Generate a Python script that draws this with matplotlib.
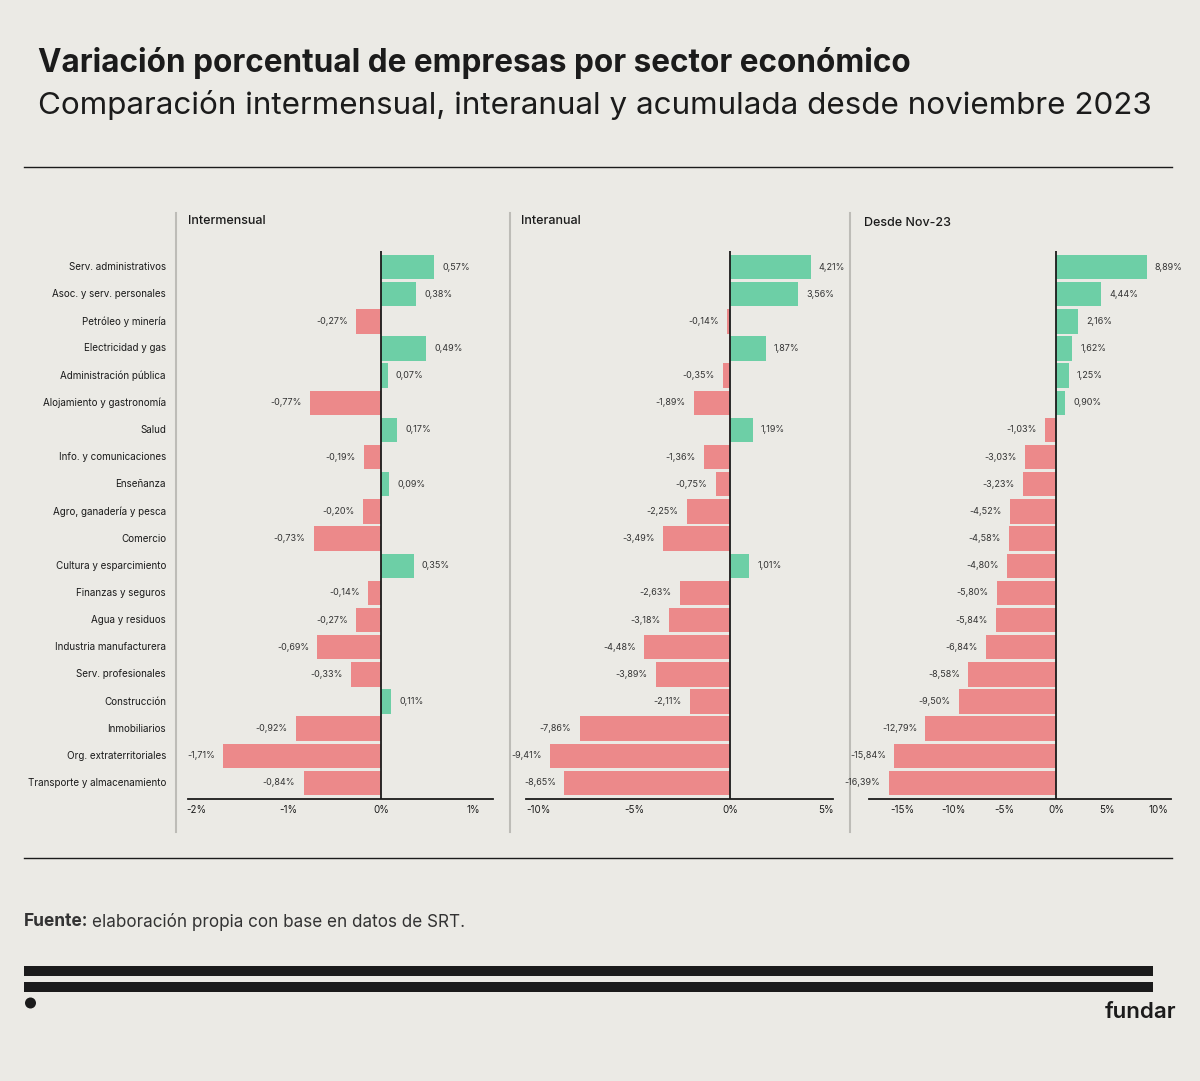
import matplotlib.pyplot as plt
from matplotlib.patches import Rectangle, Circle

plt.rcParams['font.family'] = ['Inter', 'DejaVu Sans']

# data
sectores = ["Serv. administrativos", "Asoc. y serv. personales", "Petróleo y minería",
            "Electricidad y gas", "Administración pública", "Alojamiento y gastronomía",
            "Salud", "Info. y comunicaciones", "Enseñanza", "Agro, ganadería y pesca",
            "Comercio", "Cultura y esparcimiento", "Finanzas y seguros", "Agua y residuos",
            "Industria manufacturera", "Serv. profesionales", "Construcción",
            "Inmobiliarios", "Org. extraterritoriales", "Transporte y almacenamiento"]
intermensual = [0.57, 0.38, -0.27, 0.49, 0.07, -0.77, 0.17, -0.19, 0.09, -0.20,
                -0.73, 0.35, -0.14, -0.27, -0.69, -0.33, 0.11, -0.92, -1.71, -0.84]
interanual = [4.21, 3.56, -0.14, 1.87, -0.35, -1.89, 1.19, -1.36, -0.75, -2.25,
              -3.49, 1.01, -2.63, -3.18, -4.48, -3.89, -2.11, -7.86, -9.41, -8.65]
desde_nov23 = [8.89, 4.44, 2.16, 1.62, 1.25, 0.90, -1.03, -3.03, -3.23, -4.52,
               -4.58, -4.80, -5.80, -5.84, -6.84, -8.58, -9.50, -12.79, -15.84, -16.39]

paneles = ["Intermensual", "Interanual", "Desde Nov-23"]
series = [intermensual, interanual, desde_nov23]
ticks = [[-2, -1, 0, 1], [-10, -5, 0, 5], [-15, -10, -5, 0, 5, 10]]
xlims = [(-2.09, 1.21), (-10.66, 5.38), (-18.3, 11.27)]

BG = "#ebeae5"
GREEN = "#6dcfa6"
RED = "#ec898a"
INK = "#1b1b1b"

W, H = 1200, 1081
fig = plt.figure(figsize=(W / 100, H / 100), dpi=100, facecolor=BG)


def fx(px):
    return px / W


def fy(py):
    return 1 - py / H


# titles
fig.text(fx(38), fy(63), "Variación porcentual de empresas por sector económico",
         fontsize=22.7, fontweight='bold', color=INK, va='center', ha='left')
fig.text(fx(38), fy(105), "Comparación intermensual, interanual y acumulada desde noviembre 2023",
         fontsize=22.6, color=INK, va='center', ha='left')

# separators
line_ax = fig.add_axes([0, 0, 1, 1], facecolor='none')
line_ax.set_xlim(0, W)
line_ax.set_ylim(H, 0)
line_ax.axis('off')
line_ax.plot([24, 1172], [167, 167], color=INK, lw=1)
line_ax.plot([24, 1172], [858, 858], color=INK, lw=1)
for x in [176, 510, 850]:
    line_ax.plot([x, x], [213, 832], color="#bdbcb7", lw=1.5)
line_ax.add_patch(Rectangle((24, 966), 1129, 10, color=INK, lw=0))
line_ax.add_patch(Rectangle((24, 982), 1129, 10, color=INK, lw=0))
line_ax.add_patch(Circle((30.5, 1003), 5.5, color=INK, lw=0))

# footer
fuente = fig.text(fx(24), fy(922), "Fuente:", fontsize=12.5, fontweight='bold', color="#333333",
                  va='center', ha='left')
fig.canvas.draw()
bb = fuente.get_window_extent()
fig.text(bb.x1 / W + fx(4), fy(922), "elaboración propia con base en datos de SRT.",
         fontsize=12.3, color="#333333", va='center', ha='left')
fig.text(fx(1176), fy(1012), "fundar", fontsize=16, fontweight='semibold', color=INK,
         va='center', ha='right')

# panels
lefts = [188, 526, 869]
rights = [493, 833, 1171]
title_pos = [(188, 221), (521, 221), (864, 223)]
top, bottom = 251, 799
n = len(sectores)
y = list(range(n))

for k in range(3):
    ax = fig.add_axes([fx(lefts[k]), fy(bottom), (rights[k] - lefts[k]) / W, (bottom - top) / H])
    ax.set_facecolor('none')
    vals = series[k]
    colors = [GREEN if v >= 0 else RED for v in vals]
    ax.barh(y, vals, height=0.9, color=colors)
    ax.set_xlim(*xlims[k])
    ax.set_ylim(n - 0.41, -0.59)
    ax.axvline(0, color=INK, lw=1.3)
    span = xlims[k][1] - xlims[k][0]
    off = span * 0.027
    for yi, v in zip(y, vals):
        lab = f"{v:.2f}".replace('.', ',') + "%"
        if v >= 0:
            ax.text(v + off, yi, lab, ha='left', va='center', fontsize=6.5, color="#333333")
        else:
            ax.text(v - off, yi, lab, ha='right', va='center', fontsize=6.5, color="#333333")
    ax.set_xticks(ticks[k])
    ax.set_xticklabels([f"{t}%" for t in ticks[k]], fontsize=7, color=INK)
    ax.tick_params(axis='x', length=0, pad=4)
    ax.set_yticks([])
    for s in ['top', 'right', 'left']:
        ax.spines[s].set_visible(False)
    ax.spines['bottom'].set_color(INK)
    ax.spines['bottom'].set_linewidth(1.3)
    if k == 0:
        for yi, name in zip(y, sectores):
            ax.text((166 - lefts[0]) / (rights[0] - lefts[0]), yi, name,
                    transform=ax.get_yaxis_transform(), ha='right', va='center',
                    fontsize=7.1, color=INK)
    tx, ty = title_pos[k]
    fig.text(fx(tx), fy(ty), paneles[k], fontsize=9, fontweight='medium', color=INK,
             ha='left', va='center')

fig.savefig("out.png", dpi=100, facecolor=BG)
